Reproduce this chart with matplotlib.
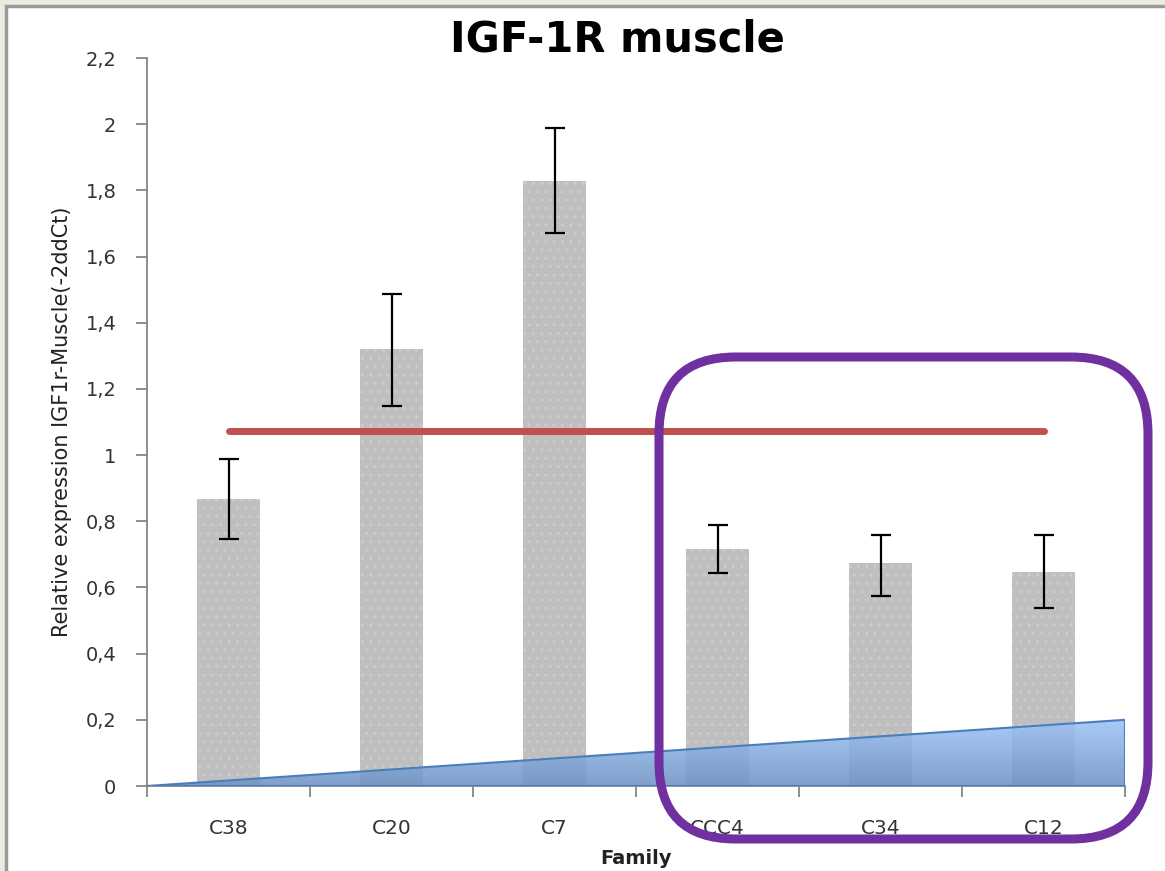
import numpy as np
import matplotlib
matplotlib.use("Agg")
import matplotlib.pyplot as plt
from matplotlib.patches import Polygon, FancyBboxPatch, Rectangle
from matplotlib.ticker import FuncFormatter

families = ["C38", "C20", "C7", "CCC4", "C34", "C12"]
expression = [0.867, 1.32, 1.828, 0.716, 0.674, 0.647]
err_low = [0.121, 0.172, 0.157, 0.073, 0.100, 0.109]
err_high = [0.121, 0.166, 0.160, 0.074, 0.084, 0.111]
ref_level = 1.072
wedge_height = 0.2

fig = plt.figure(figsize=(11.65, 8.71), dpi=100)
fig.patch.set_facecolor("#ecebe1")
# white slide panel with grey border
fig.patches.append(Rectangle((6 / 1165, -0.1), 1.2, 1 - 6 / 871 + 0.1,
                             transform=fig.transFigure, facecolor="white",
                             edgecolor="#9a9a9a", linewidth=2.5, zorder=-10))

ax = fig.add_axes([147 / 1165, 1 - 786 / 871, 978 / 1165, 728 / 871])
ax.set_facecolor("none")
x = np.arange(len(families))

ax.bar(x, expression, 0.39, color="#bfbfbf", edgecolor="#cccccc", hatch="..",
       linewidth=0, zorder=2)
ax.errorbar(x, expression, yerr=[err_low, err_high], fmt="none", ecolor="black",
            elinewidth=1.6, capsize=7, capthick=1.6, zorder=3)

# reference level line
ax.plot([x[0], x[-1]], [ref_level, ref_level], color="#c0504d", lw=5,
        solid_capstyle="round", zorder=4)

# rising wedge with vertical gradient
x0, x1 = -0.5, len(families) - 0.5
tri = Polygon([[x0, 0], [x1, 0], [x1, wedge_height]], closed=True,
              facecolor="none", edgecolor="#4a7ebb", lw=1.5, zorder=6)
ax.add_patch(tri)
grad = np.linspace(0, 1, 256).reshape(-1, 1)
cmap = matplotlib.colors.LinearSegmentedColormap.from_list("w", ["#6f93c4", "#9ec4f8"])
im = ax.imshow(grad, extent=[x0, x1, 0, wedge_height], origin="lower", cmap=cmap,
               aspect="auto", alpha=0.88, zorder=5)
im.set_clip_path(tri)

ax.set_xlim(x0, x1)
ax.set_ylim(0, 2.2)
ax.set_yticks(np.arange(0, 2.21, 0.2))
ax.yaxis.set_major_formatter(FuncFormatter(lambda v, p: f"{v:.1f}".rstrip("0").rstrip(".").replace(".", ",")))
ax.set_xticks(x)
ax.set_xticklabels(families)
ax.set_xticks(np.arange(x0, x1 + 0.01, 1), minor=True)
ax.tick_params(axis="x", which="major", length=0, pad=24, labelsize=14.5, labelcolor="#333333")
ax.tick_params(axis="x", which="minor", length=8, width=1.3, color="#868686", direction="out")
ax.tick_params(axis="y", length=8, width=1.3, color="#868686", pad=14, labelsize=14,
               labelcolor="#333333")
for s in ["top", "right"]:
    ax.spines[s].set_visible(False)
for s in ["left", "bottom"]:
    ax.spines[s].set_color("#868686")
    ax.spines[s].set_linewidth(1.3)

ax.set_ylabel("Relative expression IGF1r-Muscle(-2ddCt)", fontsize=15, color="#222222",
              labelpad=10)
ax.set_xlabel("Family", fontsize=14, color="#222222", fontweight="bold", labelpad=8)

fig.text(617 / 1165, 1 - 40 / 871, "IGF-1R muscle", ha="center", va="center",
         fontsize=30, fontweight="bold")

# purple highlight box
fig.patches.append(FancyBboxPatch((659 / 1165, 1 - 839 / 871), (1148 - 659) / 1165,
                                  (839 - 357) / 871,
                                  boxstyle="round,pad=0,rounding_size=0.066",
                                  mutation_aspect=1165 / 871,
                                  transform=fig.transFigure, facecolor="none",
                                  edgecolor="#7030a0", linewidth=6.5, zorder=10))

fig.savefig("out.png", dpi=100, facecolor=fig.get_facecolor())
